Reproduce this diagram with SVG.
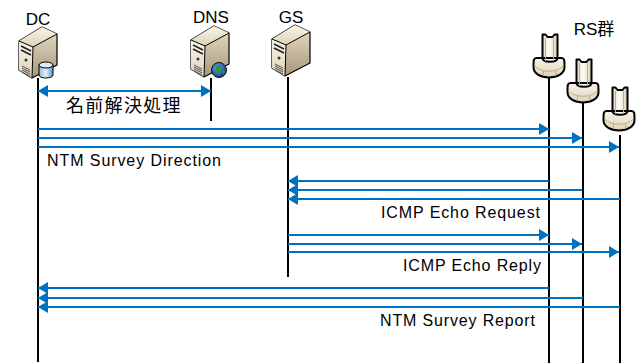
<svg xmlns="http://www.w3.org/2000/svg" width="642" height="363" viewBox="0 0 642 363">
<style>
.life{stroke:#000;stroke-width:2;fill:none}
.msg{stroke:#0070c0;stroke-width:2;fill:none}
.head{stroke:#0070c0;stroke-width:2;fill:none;marker-end:url(#ah)}
.t{font-family:"Liberation Sans","Noto Sans CJK JP",sans-serif;font-size:16px;fill:#000}
.m{text-anchor:middle;font-size:17px}
.edge{stroke:#000;stroke-width:1.2;stroke-linejoin:round}
.blk{stroke:#000;stroke-width:2;stroke-linejoin:round}
</style>
<defs>
<marker id="ah" markerUnits="userSpaceOnUse" markerWidth="11" markerHeight="12" refX="10" refY="6" orient="auto-start-reverse"><path d="M0 0L10 6L0 12Z" fill="#0070c0"/></marker>
<linearGradient id="sd" x1="0" y1="0" x2="0" y2="1"><stop offset="0" stop-color="#e8dfc8"/><stop offset="1" stop-color="#a8977a"/></linearGradient>
<linearGradient id="fr" x1="0" y1="0" x2="0" y2="1"><stop offset="0" stop-color="#f8f5e9"/><stop offset="1" stop-color="#ddd2b8"/></linearGradient>
<linearGradient id="stem" x1="0" y1="0" x2="1" y2="0"><stop offset="0" stop-color="#e6dcc6"/><stop offset=".45" stop-color="#fdfcf8"/><stop offset="1" stop-color="#dccfb4"/></linearGradient>
<linearGradient id="cyl" x1="0" y1="0" x2="1" y2="0"><stop offset="0" stop-color="#8fb8dc"/><stop offset=".5" stop-color="#e4f0fa"/><stop offset="1" stop-color="#5f8fbc"/></linearGradient>
<radialGradient id="gl" cx=".4" cy=".35" r=".7"><stop offset="0" stop-color="#6aa6f0"/><stop offset="1" stop-color="#10308c"/></radialGradient>
<g id="srv">
<path class="edge" fill="url(#sd)" d="M0 15L23 1L38 8L38 39L13 52L0 44Z"/>
<path fill="url(#fr)" d="M0 15L23 1L38 8L14 21Z"/>
<path fill="url(#fr)" d="M0 15L14 21L13 52L0 44Z"/>
<path stroke="#000" stroke-width="1" fill="none" d="M0 15L14 21L38 8M14 21L13 52"/>
<path stroke="#222" stroke-width="1.6" d="M2 20L12 25M2 24L12 29"/>
<circle cx="7" cy="34" r="1.500" fill="#333"/>
<path stroke="#555" stroke-width="1" d="M3 40L11 44M3 42L11 46M3 44L11 48M3 46L11 50"/>
</g>
<g id="rs">
<path class="blk" fill="url(#stem)" d="M9 1.500L12 1.500L14 4L19 4L21 1.500L24 1.500L24 25H9Z"/>
<path class="blk" fill="url(#fr)" d="M9 25C9 30 24 30 24 25H28C31 25 31 27 31 34C31 48 0 48 0 34C0 27 0 25 3 25Z"/>
<path stroke="#c9ad80" stroke-width="1" fill="none" d="M12 5V28M20 5V28M1 33C8 40 23 40 30 33M10 38V43M22 38V43"/>
</g>
</defs>
<g id="connectors">
<path class="life" d="M38 78V362M211 78V121M288 77V277M549 77V363M583 103V363M620 135V363"/>
<path class="msg" style="marker-start:url(#ah);marker-end:url(#ah)" d="M38 91H211"/>
<path class="head" d="M38 129H549"/>
<path class="head" d="M38 138H582"/>
<path class="head" d="M38 147H619"/>
<path class="head" d="M549 181H288"/>
<path class="head" d="M582 190H288"/>
<path class="head" d="M620 199H288"/>
<path class="head" d="M288 235H549"/>
<path class="head" d="M288 244H582"/>
<path class="head" d="M288 252H619"/>
<path class="head" d="M549 288H38"/>
<path class="head" d="M583 298H38"/>
<path class="head" d="M620 307H38"/>
</g>
<g id="dc"><use href="#srv" x="19" y="26"/>
<path stroke="#000" stroke-width="1" fill="url(#cyl)" d="M39 65V75C39 79 53 79 53 75V65Z"/><ellipse cx="46" cy="65" rx="7" ry="3" fill="#dcebf7" stroke="#000"/>
<text class="t m" x="38" y="25">DC</text></g>
<g id="dns"><use href="#srv" x="191" y="25"/>
<circle cx="219" cy="70" r="7.500" fill="url(#gl)" stroke="#111"/><path fill="#2a9a3a" d="M215 66L220 65L222 68L219 71L220 75L217 74L216 70ZM223 70L225 71L224 74L222 73Z"/>
<text class="t m" x="211" y="23">DNS</text></g>
<g id="gs"><use href="#srv" x="272" y="24"/><text class="t m" x="291" y="23">GS</text></g>
<g id="rs1"><use href="#rs" x="533.500" y="33"/></g>
<g id="rs2"><use href="#rs" x="567.500" y="58"/></g>
<g id="rs3"><use href="#rs" x="603.500" y="86"/></g>
<text class="t m" x="594" y="35">RS群</text>
<text class="t" x="66" y="112" style="font-size:18px;letter-spacing:1.300px">名前解決処理</text>
<text class="t" x="47" y="166" textLength="174">NTM Survey Direction</text>
<text class="t" x="381" y="218" textLength="159">ICMP Echo Request</text>
<text class="t" x="403" y="271" textLength="138">ICMP Echo Reply</text>
<text class="t" x="380" y="326" textLength="155">NTM Survey Report</text>
</svg>
